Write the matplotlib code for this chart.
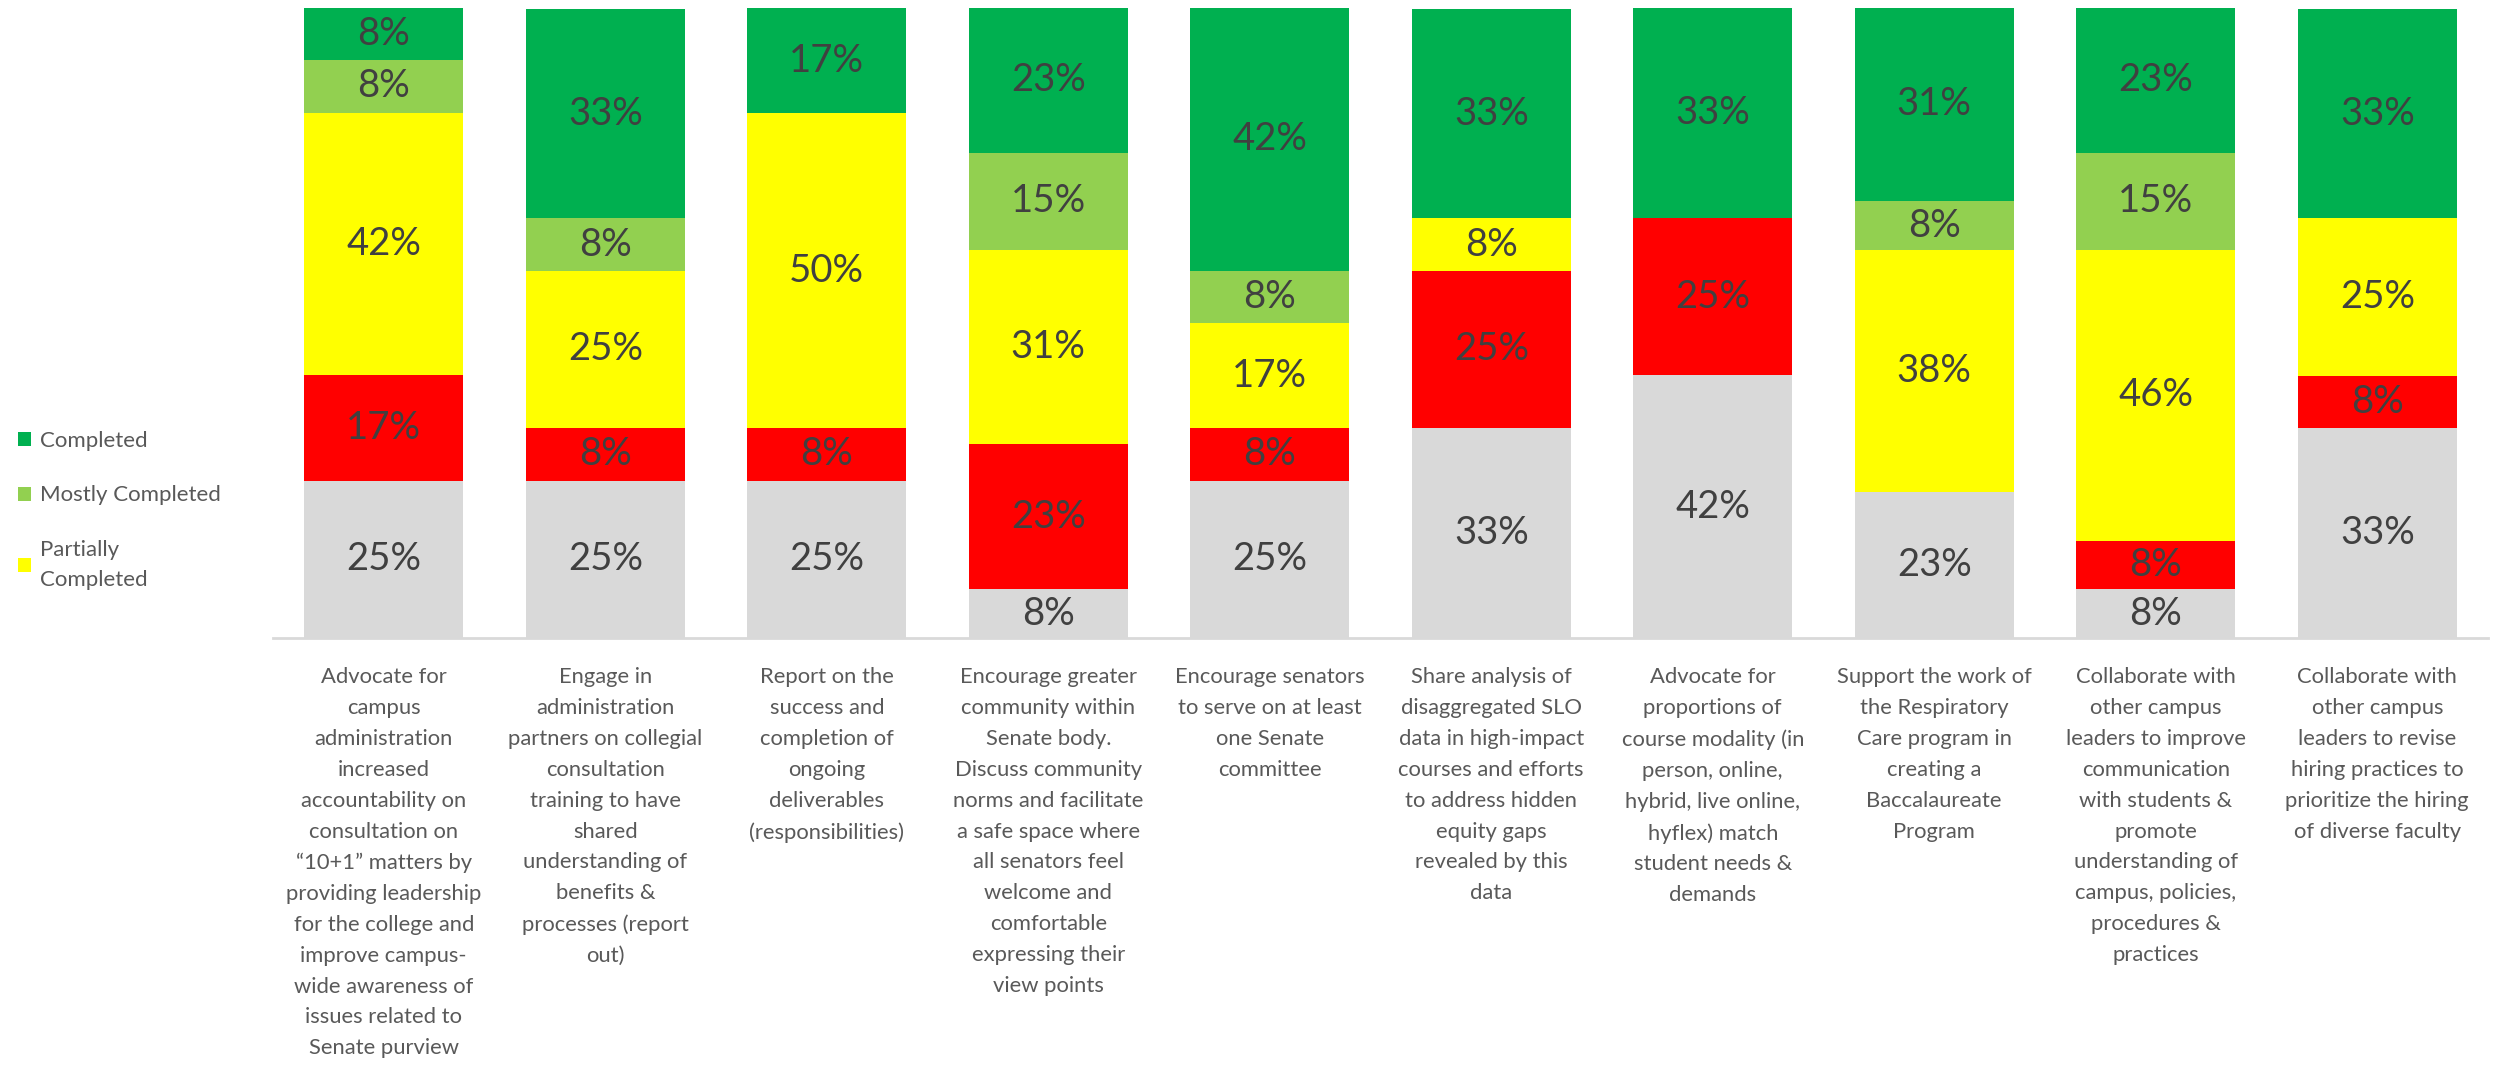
import matplotlib.pyplot as plt
import numpy as np

plt.rcParams['font.family'] = ['Lato', 'DejaVu Sans']

goals = [
    "Advocate for\ncampus\nadministration\nincreased\naccountability on\nconsultation on\n“10+1” matters by\nproviding leadership\nfor the college and\nimprove campus-\nwide awareness of\nissues related to\nSenate purview",
    "Engage in\nadministration\npartners on collegial\nconsultation\ntraining to have\nshared\nunderstanding of\nbenefits &\nprocesses (report\nout)",
    "Report on the\nsuccess and\ncompletion of\nongoing\ndeliverables\n(responsibilities)",
    "Encourage greater\ncommunity within\nSenate body.\nDiscuss community\nnorms and facilitate\na safe space where\nall senators feel\nwelcome and\ncomfortable\nexpressing their\nview points",
    "Encourage senators\nto serve on at least\none Senate\ncommittee",
    "Share analysis of\ndisaggregated SLO\ndata in high-impact\ncourses and efforts\nto address hidden\nequity gaps\nrevealed by this\ndata",
    "Advocate for\nproportions of\ncourse modality (in\nperson, online,\nhybrid, live online,\nhyflex) match\nstudent needs &\ndemands",
    "Support the work of\nthe Respiratory\nCare program in\ncreating a\nBaccalaureate\nProgram",
    "Collaborate with\nother campus\nleaders to improve\ncommunication\nwith students &\npromote\nunderstanding of\ncampus, policies,\nprocedures &\npractices",
    "Collaborate with\nother campus\nleaders to revise\nhiring practices to\nprioritize the hiring\nof diverse faculty",
]

# percent of responses per status (bottom to top)
not_started = [25.0, 25.0, 25.0, 7.7, 25.0, 33.3, 41.7, 23.1, 7.7, 33.3]
delayed     = [16.7, 8.3, 8.3, 23.1, 8.3, 25.0, 25.0, 0.0, 7.7, 8.3]
partially   = [41.7, 25.0, 50.0, 30.8, 16.7, 8.3, 0.0, 38.5, 46.2, 25.0]
mostly      = [8.3, 8.3, 0.0, 15.4, 8.3, 0.0, 0.0, 7.7, 15.4, 0.0]
completed   = [8.3, 33.3, 16.7, 23.1, 41.7, 33.3, 33.3, 30.8, 23.1, 33.3]

series = [
    ('Not Started', not_started, '#D9D9D9'),
    ('Delayed', delayed, '#FF0000'),
    ('Partially\nCompleted', partially, '#FFFF00'),
    ('Mostly Completed', mostly, '#92D050'),
    ('Completed', completed, '#00B050'),
]

fig = plt.figure(figsize=(24.98, 10.76), dpi=100)
ax = fig.add_axes([273 / 2498, 438 / 1076, 2215 / 2498, 630 / 1076])

x = np.arange(len(goals))
bottom = np.zeros(len(goals))
handles = {}
for name, vals, color in series:
    vals = np.array(vals)
    bars = ax.bar(x, vals, width=0.717, bottom=bottom, color=color, label=name)
    handles[name] = bars
    for xi, b, v in zip(x, bottom, vals):
        if v > 0:
            ax.text(xi, b + v / 2, f"{v:.0f}%", ha='center', va='center',
                    fontsize=27.5, color='#404040')
    bottom += vals

ax.set_xlim(-0.5, len(goals) - 0.5)
ax.set_ylim(0, 100)
ax.set_yticks([])
ax.set_xticks(x)
ax.set_xticklabels(goals, fontsize=15.8, color='#595959', linespacing=1.68)
ax.tick_params(axis='x', length=0, pad=21)
for s in ['top', 'right', 'left']:
    ax.spines[s].set_visible(False)
ax.spines['bottom'].set_color('#D9D9D9')
ax.spines['bottom'].set_linewidth(2)

leg_names = ['Completed', 'Mostly Completed', 'Partially\nCompleted']
leg = fig.legend([handles[n] for n in leg_names], leg_names, loc='upper left',
                 bbox_to_anchor=(18 / 2498, 1 - 431 / 1076), frameon=False,
                 fontsize=16, labelcolor='#595959', handlelength=0.6,
                 handleheight=0.6, handletextpad=0.4, labelspacing=1.55,
                 borderpad=0, borderaxespad=0)
for t in leg.get_texts():
    t.set_linespacing(1.65)

fig.savefig('out.png', dpi=100)
